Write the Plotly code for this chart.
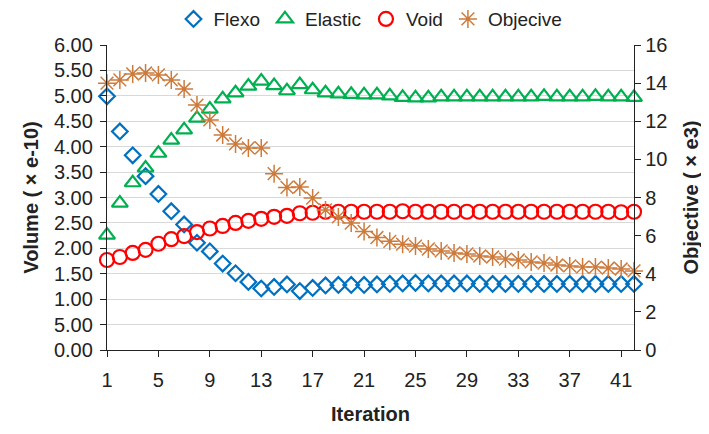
import plotly.graph_objects as go

iterations = list(range(1, 43))

flexo = [4.99, 4.30, 3.83, 3.42, 3.07, 2.73, 2.47, 2.11, 1.94, 1.70, 1.51, 1.34,
         1.21, 1.24, 1.29, 1.16, 1.22, 1.27, 1.28, 1.28, 1.28, 1.29, 1.30, 1.31,
         1.32, 1.31, 1.31, 1.31, 1.31, 1.30, 1.30, 1.30, 1.30, 1.30, 1.30, 1.30,
         1.30, 1.30, 1.30, 1.30, 1.30, 1.30]

elastic = [2.26, 2.89, 3.29, 3.58, 3.87, 4.13, 4.33, 4.56, 4.74, 4.94, 5.06, 5.19,
           5.29, 5.20, 5.10, 5.22, 5.12, 5.06, 5.04, 5.03, 5.02, 5.02, 5.00, 4.97,
           4.96, 4.96, 4.98, 4.98, 4.98, 4.98, 4.98, 4.98, 4.98, 4.98, 4.99, 4.98,
           4.98, 4.98, 4.99, 4.98, 4.98, 4.97]

void = [1.77, 1.83, 1.91, 1.97, 2.09, 2.18, 2.24, 2.32, 2.39, 2.44, 2.50, 2.54,
        2.58, 2.62, 2.64, 2.69, 2.70, 2.72, 2.72, 2.72, 2.72, 2.72, 2.72, 2.73,
        2.72, 2.72, 2.72, 2.72, 2.72, 2.72, 2.72, 2.72, 2.72, 2.72, 2.72, 2.72,
        2.72, 2.72, 2.72, 2.72, 2.71, 2.72]

objective = [14.0, 14.17, 14.48, 14.53, 14.43, 14.17, 13.69, 12.85, 12.07, 11.28,
             10.81, 10.6, 10.6, 9.25, 8.53, 8.55, 7.97, 7.35, 6.98, 6.66, 6.22,
             5.9, 5.7, 5.55, 5.45, 5.3, 5.2, 5.09, 5.04, 4.93, 4.88, 4.77, 4.72,
             4.62, 4.56, 4.46, 4.41, 4.35, 4.35, 4.3, 4.25, 4.15]

x_ticks = [1, 5, 9, 13, 17, 21, 25, 29, 33, 37, 41]
left_tickvals = [0, 0.5, 1, 1.5, 2, 2.5, 3, 3.5, 4, 4.5, 5, 5.5, 6]
left_ticktext = ["0.00", "5.00", "1.00", "1.50", "2.00", "2.50", "3.00", "3.50",
                 "4.00", "4.50", "5.00", "5.50", "6.00"]
right_tickvals = [0, 2, 4, 6, 8, 10, 12, 14, 16]

FONT = "Liberation Sans, Arial, sans-serif"

fig = go.Figure()
fig.add_trace(go.Scatter(x=iterations, y=flexo, name="Flexo", mode="markers",
                         marker=dict(symbol="diamond-open", size=12, color="#0070C0",
                                     line=dict(width=2.2)), cliponaxis=False))
fig.add_trace(go.Scatter(x=iterations, y=elastic, name="Elastic", mode="markers",
                         marker=dict(symbol="triangle-up-open", size=14, color="#00B050",
                                     line=dict(width=2.2)), cliponaxis=False))
fig.add_trace(go.Scatter(x=iterations, y=void, name="Void", mode="markers",
                         marker=dict(symbol="circle-open", size=14, color="#FF0000",
                                     line=dict(width=2.2)), cliponaxis=False))
fig.add_trace(go.Scatter(x=iterations, y=objective, name="Objecive", mode="markers",
                         yaxis="y2",
                         marker=dict(symbol="asterisk-open", size=15, color="#CD7B3C",
                                     line=dict(width=1.5)), cliponaxis=False))

fig.update_layout(
    width=701, height=426,
    margin=dict(l=99, r=75, t=37, b=84, autoexpand=False),
    paper_bgcolor="white", plot_bgcolor="white",
    font=dict(family=FONT, size=20, color="#222222"),
    showlegend=True,
    legend=dict(orientation="h", x=0.5, xanchor="center", xref="paper",
                y=1.085, yanchor="middle", yref="paper",
                font=dict(size=19), itemwidth=30, tracegroupgap=0,
                bgcolor="rgba(0,0,0,0)"),
    xaxis=dict(range=[1, 42], tickvals=x_ticks, ticks="outside", ticklen=6,
               tickcolor="#222222", showline=True, linecolor="#222222", linewidth=1.3,
               showgrid=False, zeroline=False, automargin=False, ticklabelstandoff=6,
               title=dict(text="<b>Iteration</b>", font=dict(size=20), standoff=16)),
    yaxis=dict(range=[0, 6], tickvals=left_tickvals, ticktext=left_ticktext,
               ticks="outside", ticklen=6, tickcolor="#222222", ticklabelstandoff=3,
               showline=True, linecolor="#222222", linewidth=1.3, automargin=False,
               showgrid=True, gridcolor="#D9D9D9", gridwidth=1.2, zeroline=False,
               title=dict(text="<b>Volume ( × e-10)</b>", font=dict(size=20), standoff=9)),
    yaxis2=dict(range=[0, 16], tickvals=right_tickvals, overlaying="y", side="right",
                ticks="outside", ticklen=6, tickcolor="#222222", automargin=False,
                showline=True, linecolor="#222222", linewidth=1.3,
                showgrid=False, zeroline=False,
                title=dict(text="<b>Objective ( × e3)</b>", font=dict(size=20), standoff=17)),
)

fig.write_html("out.html")
